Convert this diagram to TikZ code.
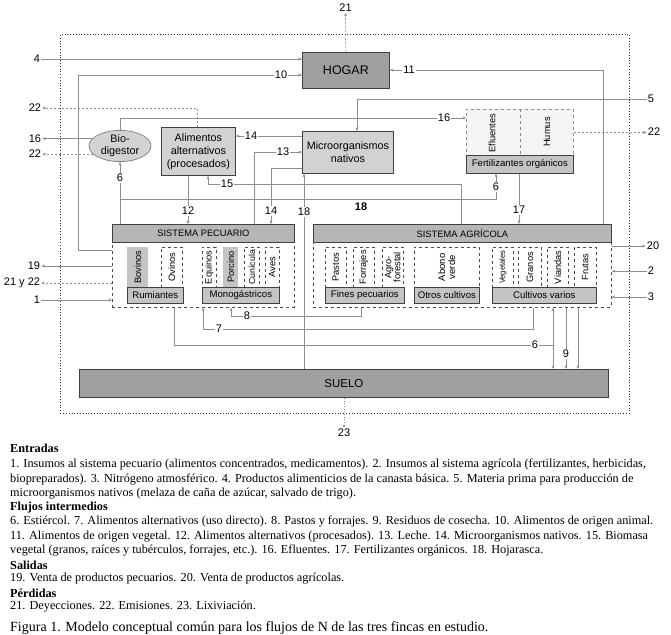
\documentclass[tikz,border=0pt]{standalone}
\usepackage{fontspec}
\setmainfont{Liberation Serif}
\newfontfamily\arial{Liberation Sans}
\usetikzlibrary{shapes.geometric,arrows.meta,calc}
\definecolor{lnc}{HTML}{8E8E8E}
\definecolor{darkbox}{HTML}{A0A0A0}
\definecolor{hdr}{HTML}{B6B6B6}
\definecolor{lightbox}{HTML}{D2D2D2}
\definecolor{barc}{HTML}{C4C4C4}
\definecolor{fertf}{HTML}{F4F4F4}
\tikzset{
  box/.style={draw=black!75, line width=0.8pt, inner sep=0pt, anchor=north west, align=center, font=\arial\fontsize{10.8}{13}\selectfont},
  darkbx/.style={box, fill=darkbox},
  lightbx/.style={box, fill=lightbox},
  hdrbx/.style={box, fill=hdr, font=\arial\fontsize{9.3}{10}\selectfont},
  barbx/.style={box, fill=barc, line width=0.7pt, font=\arial\fontsize{9.6}{10}\selectfont},
  groupbx/.style={draw=black!70, dashed, line width=0.7pt, anchor=north west, inner sep=0pt},
  colbx/.style={draw=black!70, dashed, line width=0.6pt, anchor=north west, inner sep=0pt, minimum width=21pt, minimum height=40pt},
  colfill/.style={fill=barc, anchor=north west, inner sep=0pt, minimum width=21pt, minimum height=40pt},
  collab/.style={rotate=90, inner sep=0pt, align=center, font=\arial\fontsize{9.3}{9}\selectfont},
  flow/.style={draw=lnc, line width=0.7pt},
  arr/.style={-{Stealth[length=3.5pt,width=3pt]}},
  dflow/.style={flow, dash pattern=on 2.5pt off 1.5pt},
  lbl/.style={fill=white, inner sep=1.2pt, font=\arial\fontsize{11}{11}\selectfont},
  ext/.style={inner sep=1pt, font=\arial\fontsize{11}{11}\selectfont},
  txt/.style={anchor=west, inner sep=0pt, font=\fontsize{12.25}{13}\selectfont},
  txtb/.style={txt, font=\fontsize{12.25}{13}\selectfont\bfseries},
}
\begin{document}
\begin{tikzpicture}[x=1pt,y=-1pt]
\useasboundingbox (0,0) rectangle (671,634);
% outer boundary
\node[draw=black!80, dotted, line width=0.8pt, anchor=north west, minimum width=569pt, minimum height=379pt, inner sep=0pt] (farm) at (60,34) {};
% main boxes
\node[darkbx, minimum width=87pt, minimum height=36pt, font=\arial\fontsize{12.5}{13}\selectfont] (hogar) at (302,52) {HOGAR};
\node[lightbx, minimum width=74pt, minimum height=48pt] (alim) at (161,127) {Alimentos\\alternativos\\(procesados)};
\node[lightbx, minimum width=91pt, minimum height=42pt] (micro) at (302,131) {Microorganismos\\nativos};
\node[draw=black!50, fill=lightbox, ellipse, line width=0.7pt, minimum width=62pt, minimum height=27pt, inner sep=0pt, align=center, font=\arial\fontsize{10.8}{12}\selectfont] (bio) at (120,146) {Bio-\\digestor};
% fertilizantes
\node[groupbx, draw=black!45, fill=fertf, minimum width=107pt, minimum height=46pt] (fert) at (466,109) {};
\draw[draw=black!45, dashed, line width=0.6pt] (fert.north) -- (fert.south);
\node[collab] (eflu) at (492,133) {Efluentes};
\node[collab] (humus) at (547,132) {Humus};
\node[barbx, minimum width=107pt, minimum height=18pt] (fertbar) at (466,155) {Fertilizantes orgánicos};
% sistema pecuario
\node[groupbx, minimum width=182pt, minimum height=83pt] (pec) at (112,224) {};
\node[hdrbx, minimum width=182pt, minimum height=18pt] (pechdr) at (112,224) {SISTEMA PECUARIO};
\node[colfill] (bov) at (127,247) {};
\node[collab] at (bov) {Bovinos};
\node[colbx] (ovi) at (161,247) {};
\node[collab] at (ovi) {Ovinos};
\node[barbx, minimum width=56pt, minimum height=16pt] (rum) at (127,287) {Rumiantes};
\node[colbx, minimum width=14pt] (equ) at (202,247) {};
\node[collab] at (equ) {Equinos};
\node[colfill, minimum width=15pt] (por) at (223,247) {};
\node[collab] at (por) {Porcino};
\node[colbx, minimum width=15pt] (cun) at (244,247) {};
\node[collab, font=\arial\fontsize{8.8}{9}\selectfont] at (cun) {Cunícula};
\node[colbx, minimum width=14pt] (ave) at (265,247) {};
\node[collab] at (ave) {Aves};
\node[barbx, minimum width=77pt, minimum height=16pt] (mono) at (202,287) {Monogástricos};
% sistema agricola
\node[groupbx, minimum width=298pt, minimum height=83pt] (agr) at (313,224) {};
\node[hdrbx, minimum width=298pt, minimum height=18pt] (agrhdr) at (313,224) {SISTEMA AGRÍCOLA};
\node[colbx] (pas) at (325,247) {};
\node[collab] at (pas) {Pastos};
\node[colbx] (forr) at (353,247) {};
\node[collab] at (forr) {Forrajes};
\node[colbx] (agro) at (382,247) {};
\node[collab] at (agro) {Agro-\\forestal};
\node[barbx, minimum width=79pt, minimum height=16pt] (fines) at (325,287) {Fines pecuarios};
\node[colbx, minimum width=65pt] (abo) at (414,247) {};
\node[collab, font=\arial\fontsize{9.5}{10}\selectfont] at (abo) {Abono\\verde};
\node[barbx, minimum width=65pt, minimum height=16pt] (otros) at (414,287) {Otros cultivos};
\node[colbx] (veg) at (492,247) {};
\node[collab, font=\arial\fontsize{7.6}{7}\selectfont] at (veg) {Vegetales};
\node[colbx, minimum width=23pt] (gra) at (518,247) {};
\node[collab] at (gra) {Granos};
\node[colbx] (via) at (547,247) {};
\node[collab] at (via) {Viandas};
\node[colbx, minimum width=22pt] (fru) at (574,247) {};
\node[collab] at (fru) {Frutas};
\node[barbx, minimum width=104pt, minimum height=16pt] (cvar) at (492,287) {Cultivos varios};
% suelo
\node[darkbx, minimum width=529pt, minimum height=28pt, font=\arial\fontsize{11.5}{12}\selectfont] (suelo) at (79,369) {SUELO};
% external labels
\node[ext] (l21) at (345.5,8) {21};
\node[ext] (l4) at (37,59) {4};
\node[ext] (l22a) at (35,108) {22};
\node[ext] (l16) at (35,139) {16};
\node[ext] (l22b) at (35,154) {22};
\node[ext] (l19) at (34,266) {19};
\node[ext] (l2122) at (22,283) {21 y 22};
\node[ext] (l1) at (37,300) {1};
\node[ext] (l5) at (651,99) {5};
\node[ext] (l22c) at (654,132) {22};
\node[ext] (l20) at (653,246) {20};
\node[ext] (l2) at (651,271) {2};
\node[ext] (l3) at (651,297) {3};
\node[ext] (l23) at (344,433) {23};
% helper coordinates
\coordinate (c10a) at (78,250);
\coordinate (c10b) at (78,75);
\coordinate (c5) at (357,99);
\coordinate (c6b) at (496,199);
\coordinate (c6c1) at (174,345);
\coordinate (c6c2) at (553,345);
\coordinate (c7a) at (533,329);
\coordinate (c7b) at (203,329);
\coordinate (c8a) at (361,316);
\coordinate (c8b) at (231,316);
\coordinate (c9a) at (566,340);
\coordinate (c9b) at (578,340);
\coordinate (c11) at (603,70);
\coordinate (c12) at (188,200);
\coordinate (c13) at (254,152);
\coordinate (c14a) at (260,136);
\coordinate (c14b) at (271,168);
\coordinate (c15a) at (461,184);
\coordinate (c15b) at (208,184);
\coordinate (c16) at (120,118);
\coordinate (c17) at (519,200);
\coordinate (c18) at (304,300);
\coordinate (c22a) at (197,108);
% connectors
\draw[flow,arr] (l1.east) -- (l1.east -| pec.west);
\draw[flow,arr] (l2.west) -- (l2.west -| agr.east);
\draw[flow,arr] (l3.west) -- (l3.west -| agr.east);
\draw[flow,arr] (l4.east) -- (l4.east -| hogar.west);
\draw[flow,arr] (l5.west) -- (c5) -- (c5 |- micro.north);
\draw[flow,arr] (bio.south |- pec.north) -- (bio.south);
\draw[flow,arr] (bio.south |- c6b) -- (c6b) -- (c6b |- fertbar.south);
\draw[flow] (c6c1 |- pec.south) -- (c6c1) -- (c6c2);
\draw[flow,arr] (c6c2) -- (c6c2 |- agr.south);
\draw[flow,arr] (c6c2) -- (c6c2 |- suelo.north);
\draw[flow,arr] (c7a |- agr.south) -- (c7a) -- (c7b) -- (c7b |- pec.south);
\draw[flow,arr] (c8a |- agr.south) -- (c8a) -- (c8b) -- (c8b |- pec.south);
\draw[flow,arr] (c9a |- agr.south) -- (c9a |- suelo.north);
\draw[flow,arr] (c9b |- agr.south) -- (c9b |- suelo.north);
\draw[flow,arr] (pec.north west |- c10a) -- (c10a) -- (c10b) -- (c10b -| hogar.west);
\draw[flow,arr] (c11 |- agr.north) -- (c11) -- (c11 -| hogar.east);
\draw[flow,arr] (c12 |- alim.south) -- (c12 |- pec.north);
\draw[flow,arr] (c13 |- pec.north) -- (c13) -- (c13 -| micro.west);
\draw[flow,arr] (c14a -| micro.west) -- (c14a -| alim.east);
\draw[flow,arr] (c14b -| micro.west) -- (c14b) -- (c14b |- pec.north);
\draw[flow,arr] (c15a |- agr.north) -- (c15a) -- (c15b) -- (c15b |- alim.south);
\draw[flow,arr] (bio.north) -- (c16) -- (c16 -| fert.west);
\draw[flow,arr] (bio.165) -- (bio.165 -| l16.east);
\draw[flow,arr] (c17 |- fertbar.south) -- (c17 |- agr.north);
\draw[flow,arr] (c18 |- suelo.north) -- (c18 |- micro.south);
\draw[flow,arr] (pec.west |- l19) -- (l19.east);
\draw[flow,arr] (agr.east |- l20) -- (l20.west);
\draw[dflow,arr] (pec.west |- l2122) -- (l2122.east);
\draw[dflow,arr] (hogar.north) -- (l21.south);
\draw[dflow,arr] (c22a |- alim.north) -- (c22a) -- (c22a -| l22a.east);
\draw[dflow,arr] (bio.197) -- (bio.197 -| l22b.east);
\draw[dflow,arr] (fert.east) -- (fert.east -| l22c.west);
\draw[flow, dotted, line width=0.8pt, arr] (suelo.south -| l23.north) -- (l23.north);
% flow labels
\node[lbl] (n10) at (281,75) {10};
\node[lbl] (n11) at (409,70) {11};
\node[lbl] (n14a) at (251,136) {14};
\node[lbl] (n13) at (283,152) {13};
\node[lbl] (n15) at (227,184) {15};
\node[lbl] (n16) at (444,118) {16};
\node[lbl] (n6a) at (120,178) {6};
\node[lbl] (n6b) at (496,187) {6};
\node[lbl] (n12) at (188,211) {12};
\node[lbl] (n14b) at (271,211) {14};
\node[lbl] (n18a) at (304,212) {18};
\node[lbl, font=\arial\bfseries\fontsize{11}{11}\selectfont] (n18b) at (361,207) {18};
\node[lbl] (n17) at (519,210) {17};
\node[lbl] (n8) at (247,316) {8};
\node[lbl] (n7) at (219,329) {7};
\node[lbl] (n6c) at (535,345) {6};
\node[lbl] (n9) at (566,354) {9};
% legend text
\node[txtb] (t1) at (10,448) {Entradas};
\node[txt] (t2) at (10,465) {1. Insumos al sistema pecuario (alimentos concentrados, medicamentos). 2. Insumos al sistema agrícola (fertilizantes, herbicidas,};
\node[txt] (t3) at (10,480) {biopreparados). 3. Nitrógeno atmosférico. 4. Productos alimenticios de la canasta básica. 5. Materia prima para producción de};
\node[txt] (t4) at (10,494) {microorganismos nativos (melaza de caña de azúcar, salvado de trigo).};
\node[txtb] (t5) at (10,508) {Flujos intermedios};
\node[txt] (t6) at (10,522) {6. Estiércol. 7. Alimentos alternativos (uso directo). 8. Pastos y forrajes. 9. Residuos de cosecha. 10. Alimentos de origen animal.};
\node[txt] (t7) at (10,537) {11. Alimentos de origen vegetal. 12. Alimentos alternativos (procesados). 13. Leche. 14. Microorganismos nativos. 15. Biomasa};
\node[txt] (t8) at (10,551) {vegetal (granos, raíces y tubérculos, forrajes, etc.). 16. Efluentes. 17. Fertilizantes orgánicos. 18. Hojarasca.};
\node[txtb] (t9) at (10,565) {Salidas};
\node[txt] (t10) at (10,579) {19. Venta de productos pecuarios. 20. Venta de productos agrícolas.};
\node[txtb] (t11) at (10,593) {Pérdidas};
\node[txt] (t12) at (10,607) {21. Deyecciones. 22. Emisiones. 23. Lixiviación.};
\node[txt, font=\fontsize{14}{15}\selectfont] (t13) at (10,628) {Figura 1. Modelo conceptual común para los flujos de N de las tres fincas en estudio.};
\end{tikzpicture}
\end{document}
